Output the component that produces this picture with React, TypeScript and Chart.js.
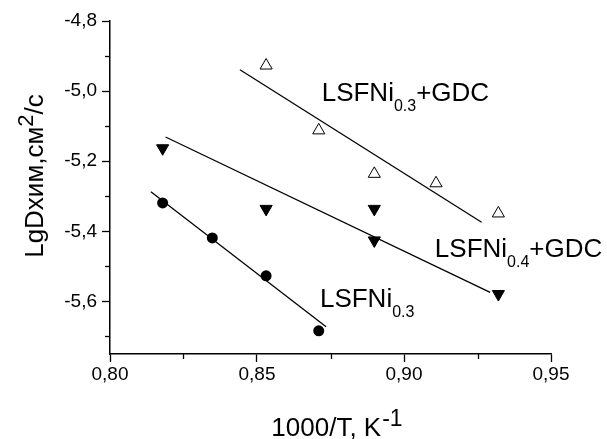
import React, { useEffect, useRef } from 'react';
import { Chart, registerables } from 'chart.js';

Chart.register(...registerables);

// ---- data ----
const xLsfni03Gdc = [0.8531, 0.871, 0.8899, 0.9109, 0.9321];
const yLsfni03Gdc = [-4.927, -5.112, -5.236, -5.263, -5.349];

const xLsfni04Gdc = [0.8179, 0.8531, 0.8899, 0.8899, 0.9321];
const yLsfni04Gdc = [-5.163, -5.336, -5.336, -5.426, -5.579];

const xLsfni03 = [0.8179, 0.8348, 0.8531, 0.871];
const yLsfni03 = [-5.319, -5.419, -5.527, -5.684];

// linear fit segments (end points)
const fitLsfni03GdcX = [0.8442, 0.9264];
const fitLsfni03GdcY = [-4.939, -5.374];
const fitLsfni04GdcX = [0.8189, 0.9293];
const fitLsfni04GdcY = [-5.131, -5.574];
const fitLsfni03X = [0.8139, 0.8735];
const fitLsfni03Y = [-5.287, -5.672];

// axis ticks
const xAllTicks = [0.8, 0.825, 0.85, 0.875, 0.9, 0.925, 0.95];
const xMajorTicks = [0.8, 0.85, 0.9, 0.95];
const xMajorLabels = ['0,80', '0,85', '0,90', '0,95'];
const yAllTicks = [-5.7, -5.6, -5.5, -5.4, -5.3, -5.2, -5.1, -5.0, -4.9, -4.8];
const yMajorTicks = [-5.6, -5.4, -5.2, -5.0, -4.8];
const yMajorLabels = ['-5,6', '-5,4', '-5,2', '-5,0', '-4,8'];

// series annotations
const seriesNames = ['LSFNi', 'LSFNi', 'LSFNi'];
const seriesSubs = ['0.3', '0.4', '0.3'];
const seriesSuffix = ['+GDC', '+GDC', ''];
const seriesLabelX = [0.872, 0.9105, 0.8714];
const seriesLabelY = [-5.027, -5.473, -5.617];

const FONT = '"Liberation Sans", Arial, sans-serif';

const isIn = (arr: number[], v: number) => arr.findIndex((a) => Math.abs(a - v) < 1e-6);

const pts = (xs: number[], ys: number[]) => xs.map((x, i) => ({ x, y: ys[i] }));

const annotPlugin = {
  id: 'annot',
  afterDraw(chart: any) {
    const ctx: CanvasRenderingContext2D = chart.ctx;
    const xs = chart.scales.x;
    const ys = chart.scales.y;
    const area = chart.chartArea;
    ctx.save();
    ctx.strokeStyle = '#000';
    ctx.lineWidth = 1.3;
    // minor ticks
    xAllTicks.forEach((v) => {
      if (isIn(xMajorTicks, v) >= 0) return;
      const px = Math.round(xs.getPixelForValue(v)) + 0.5;
      ctx.beginPath();
      ctx.moveTo(px, area.bottom);
      ctx.lineTo(px, area.bottom + 5);
      ctx.stroke();
    });
    yAllTicks.forEach((v) => {
      if (isIn(yMajorTicks, v) >= 0) return;
      const py = Math.round(ys.getPixelForValue(v)) + 0.5;
      ctx.beginPath();
      ctx.moveTo(area.left, py);
      ctx.lineTo(area.left - 5, py);
      ctx.stroke();
    });

    ctx.fillStyle = '#000';
    ctx.textBaseline = 'alphabetic';
    ctx.textAlign = 'left';
    // series labels
    seriesNames.forEach((name, i) => {
      let x = xs.getPixelForValue(seriesLabelX[i]);
      const y = ys.getPixelForValue(seriesLabelY[i]);
      ctx.font = `26px ${FONT}`;
      ctx.fillText(name, x, y);
      x += ctx.measureText(name).width;
      ctx.font = `16px ${FONT}`;
      ctx.fillText(seriesSubs[i], x, y + 10);
      x += ctx.measureText(seriesSubs[i]).width;
      if (seriesSuffix[i]) {
        ctx.font = `26px ${FONT}`;
        ctx.fillText(seriesSuffix[i], x, y);
      }
    });

    // x title
    {
      const main = '1000/T, K';
      const sup = '-1';
      ctx.font = `26px ${FONT}`;
      const w1 = ctx.measureText(main).width;
      ctx.font = `23px ${FONT}`;
      const w2 = ctx.measureText(sup).width;
      const cx = (area.left + area.right) / 2 + 6;
      let x = cx - (w1 + w2) / 2;
      const y = 436;
      ctx.font = `26px ${FONT}`;
      ctx.fillText(main, x, y);
      x += w1 + 1;
      ctx.font = `23px ${FONT}`;
      ctx.fillText(sup, x, y - 10);
    }

    // y title
    {
      const a = 'LgDхим,см';
      const sup = '2';
      const b = '/с';
      ctx.font = `26px ${FONT}`;
      const wa = ctx.measureText(a).width;
      const wb = ctx.measureText(b).width;
      ctx.font = `22px ${FONT}`;
      const ws = ctx.measureText(sup).width;
      const total = wa + wb + ws;
      ctx.translate(43, 176 + total / 2);
      ctx.rotate(-Math.PI / 2);
      let x = 0;
      ctx.font = `26px ${FONT}`;
      ctx.fillText(a, x, 0);
      x += wa;
      ctx.font = `22px ${FONT}`;
      ctx.fillText(sup, x, -10);
      x += ws;
      ctx.font = `26px ${FONT}`;
      ctx.fillText(b, x, 0);
    }
    ctx.restore();
  },
};

export default function App() {
  const ref = useRef<HTMLCanvasElement | null>(null);
  useEffect(() => {
    if (!ref.current) return;
    const lineDs = (xs: number[], ys: number[]) => ({
      type: 'line' as const,
      data: pts(xs, ys),
      borderColor: '#000',
      borderWidth: 1.3,
      pointRadius: 0,
      showLine: true,
      fill: false,
    });
    const chart = new Chart(ref.current, {
      type: 'scatter',
      data: {
        datasets: [
          {
            label: 'LSFNi0.3+GDC',
            data: pts(xLsfni03Gdc, yLsfni03Gdc),
            pointStyle: 'triangle',
            pointRadius: 7,
            backgroundColor: '#fff',
            borderColor: '#000',
            borderWidth: 1,
          },
          {
            label: 'LSFNi0.4+GDC',
            data: pts(xLsfni04Gdc, yLsfni04Gdc),
            pointStyle: 'triangle',
            rotation: 180,
            pointRadius: 7,
            backgroundColor: '#000',
            borderColor: '#000',
            borderWidth: 1,
          },
          {
            label: 'LSFNi0.3',
            data: pts(xLsfni03, yLsfni03),
            pointStyle: 'circle',
            pointRadius: 5.5,
            backgroundColor: '#000',
            borderColor: '#000',
            borderWidth: 0,
          },
          lineDs(fitLsfni03GdcX, fitLsfni03GdcY) as any,
          lineDs(fitLsfni04GdcX, fitLsfni04GdcY) as any,
          lineDs(fitLsfni03X, fitLsfni03Y) as any,
        ],
      },
      options: {
        animation: false,
        responsive: false,
        maintainAspectRatio: false,
        layout: { padding: { left: 0, top: 21, right: 56, bottom: 0 } },
        plugins: { legend: { display: false }, tooltip: { enabled: false } },
        scales: {
          x: {
            type: 'linear',
            min: 0.8,
            max: 0.95,
            afterBuildTicks: (s: any) => {
              s.ticks = xAllTicks.map((v) => ({ value: v }));
            },
            afterFit: (s: any) => {
              s.height = 439 - 354;
            },
            grid: {
              display: true,
              drawOnChartArea: false,
              drawTicks: true,
              tickLength: 8,
              tickWidth: 1.3,
              tickColor: (c: any) =>
                c.tick && isIn(xMajorTicks, c.tick.value) >= 0 ? '#000' : 'rgba(0,0,0,0)',
            },
            border: { display: true, color: '#000', width: 1.5 },
            ticks: {
              autoSkip: false,
              maxRotation: 0,
              padding: 1,
              color: '#000',
              font: { family: FONT, size: 19 },
              callback: (v: any) => {
                const i = isIn(xMajorTicks, Number(v));
                return i >= 0 ? xMajorLabels[i] : '';
              },
            },
          },
          y: {
            type: 'linear',
            min: -5.75,
            max: -4.8,
            afterBuildTicks: (s: any) => {
              s.ticks = yAllTicks.map((v) => ({ value: v }));
            },
            afterFit: (s: any) => {
              s.width = 110;
            },
            grid: {
              display: true,
              drawOnChartArea: false,
              drawTicks: true,
              tickLength: 8,
              tickWidth: 1.3,
              tickColor: (c: any) =>
                c.tick && isIn(yMajorTicks, c.tick.value) >= 0 ? '#000' : 'rgba(0,0,0,0)',
            },
            border: { display: true, color: '#000', width: 1.5 },
            ticks: {
              autoSkip: false,
              padding: 5,
              color: '#000',
              font: { family: FONT, size: 19 },
              callback: (v: any) => {
                const i = isIn(yMajorTicks, Number(v));
                return i >= 0 ? yMajorLabels[i] : '';
              },
            },
          },
        },
      },
      plugins: [annotPlugin],
    });
    return () => chart.destroy();
  }, []);
  return (
    <div style={{ position: 'fixed', left: 0, top: 0, width: 607, height: 439, background: '#fff' }}>
      <canvas ref={ref} width={607} height={439} style={{ display: 'block' }} />
    </div>
  );
}
